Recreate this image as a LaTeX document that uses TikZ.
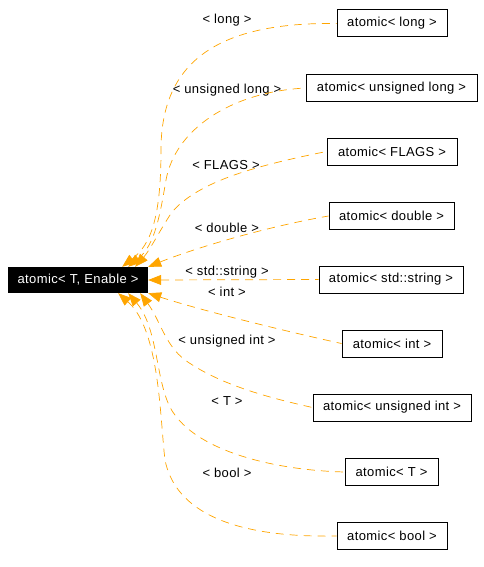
\documentclass[tikz,border=0pt]{standalone}
\usepackage{fontspec}
\setmainfont{Liberation Sans}[LetterSpace=3]
\usetikzlibrary{arrows.meta}
\definecolor{doxyorange}{RGB}{255,165,0}
\tikzset{
  cls/.style={draw=black,line width=1pt,minimum height=27pt,inner xsep=0pt,font=\fontsize{13}{15}\selectfont},
  mainbox/.style={fill=black,text=white,minimum width=140pt,minimum height=26pt,inner sep=0pt,font=\fontsize{13}{15}\selectfont},
  edge/.style={draw=doxyorange,line width=0.7pt,dash pattern=on 8pt off 6pt,{Triangle[length=13pt,width=10pt,fill=doxyorange]}-},
  lbl/.style={font=\fontsize{13}{15}\selectfont,inner sep=0pt}
}
\begin{document}
\begin{tikzpicture}[x=1pt,y=-1pt]
\useasboundingbox (0,0) rectangle (484,567);
\node[mainbox] (main) at (78,280) {atomic< T, Enable >};
\node[cls,minimum width=110pt] (long) at (392,23.5) {atomic< long >};
\node[cls,minimum width=171pt] (ulong) at (391.5,88) {atomic< unsigned long >};
\node[cls,minimum width=130pt] (flags) at (392,151.5) {atomic< FLAGS >};
\node[cls,minimum width=125pt] (dbl) at (391.5,216) {atomic< double >};
\node[cls,minimum width=144pt] (str) at (391,279.5) {atomic< std::string >};
\node[cls,minimum width=100pt] (int) at (392,343.5) {atomic< int >};
\node[cls,minimum width=158pt] (uint) at (392,407.5) {atomic< unsigned int >};
\node[cls,minimum width=93pt] (T) at (391.5,472) {atomic< T >};
\node[cls,minimum width=110pt] (bool) at (392,536) {atomic< bool >};

\node[lbl] (llong) at (227,20) {< long >};
\node[lbl] (lulong) at (227,90) {< unsigned long >};
\node[lbl] (lflags) at (226,165) {< FLAGS >};
\node[lbl] (ldbl) at (227,228) {< double >};
\node[lbl] (lstr) at (227,272) {< std::string >};
\node[lbl] (lint) at (227,292) {< int >};
\node[lbl] (luint) at (227,341) {< unsigned int >};
\node[lbl] (lT) at (227,401) {< T >};
\node[lbl] (lbool) at (227,473) {< bool >};

\draw[edge] ([xshift=-26pt]main.north east) .. controls (150,245) and (161,220) .. (161,150) .. controls (161,60) and (220,22) .. (long.west);
\draw[edge] ([xshift=-20pt]main.north east) .. controls (155,245) and (160,215) .. (166,180) .. controls (175,130) and (230,92) .. (ulong.west);
\draw[edge] ([xshift=-13pt]main.north east) .. controls (150,250) and (160,230) .. (172,212) .. controls (200,180) and (260,165) .. (flags.west);
\draw[edge] (main.north east) .. controls (190,250) and (260,228) .. (dbl.west);
\draw[edge] (main.east) -- (str.west);
\draw[edge] (main.south east) .. controls (200,310) and (280,330) .. (int.west);
\draw[edge] ([xshift=-8pt]main.south east) .. controls (160,320) and (165,345) .. (185,360) .. controls (220,385) and (270,398) .. (uint.west);
\draw[edge] ([xshift=-20pt]main.south east) .. controls (160,330) and (155,390) .. (175,415) .. controls (200,450) and (270,470) .. (T.west);
\draw[edge] ([xshift=-30pt]main.south east) .. controls (160,330) and (160,420) .. (165,460) .. controls (175,510) and (230,538) .. (bool.west);
\end{tikzpicture}
\end{document}
